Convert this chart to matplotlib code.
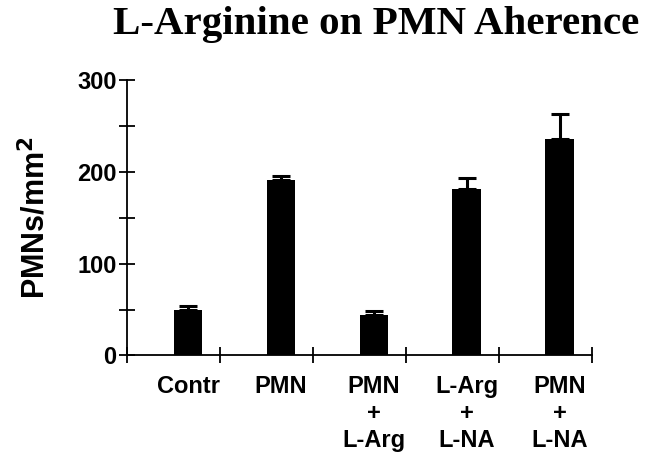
import matplotlib
matplotlib.use("Agg")
import matplotlib.pyplot as plt
import numpy as np

# values
groups = ["Contr", "PMN", "PMN\n+\nL-Arg", "L-Arg\n+\nL-NA", "PMN\n+\nL-NA"]
means = [50, 191, 44, 181, 236]
sem = [4, 4, 4, 12, 27]
yticks_major = [0, 100, 200, 300]
yticks_minor = [50, 150, 250]

fig = plt.figure(figsize=(6.65, 4.54), dpi=100)
ax = fig.add_axes([0.191, 0.217, 0.699, 0.607])

x = np.arange(len(groups))
ax.bar(x, means, width=0.31, color="black", zorder=2)
ax.errorbar(x, means, yerr=[np.zeros(len(sem)), sem], fmt="none",
            ecolor="black", elinewidth=2.2, capsize=6.5, capthick=2.2, zorder=3)

# category separators offset from the bars
offset = 0.656
ax.set_xlim(-offset, len(groups) - offset)
ax.set_xticks(np.arange(len(groups) + 1) - offset)
ax.set_xticklabels([])
ax.set_xticks(x, minor=True)
ax.set_xticklabels(groups, minor=True, fontsize=17, fontweight="bold",
                   fontfamily="Liberation Sans", linespacing=1.22)
ax.tick_params(axis="x", which="major", direction="inout", length=11, width=1.3)
ax.tick_params(axis="x", which="minor", length=0, pad=14)

ax.set_ylim(0, 300)
ax.set_yticks(yticks_major)
ax.set_yticks(yticks_minor, minor=True)
ax.set_yticklabels([str(v) for v in yticks_major], fontsize=17,
                   fontweight="bold", fontfamily="Liberation Sans")
ax.tick_params(axis="y", which="both", direction="inout", length=11, width=1.3, pad=2)

for side in ["top", "right"]:
    ax.spines[side].set_visible(False)
for side in ["left", "bottom"]:
    ax.spines[side].set_linewidth(1.3)

ax.set_ylabel("PMNs/mm$^\\mathbf{2}$", fontsize=22, fontweight="bold",
              fontfamily="Liberation Sans", labelpad=18)

fig.text(0.565, 0.925, "L-Arginine on PMN Aherence", ha="center", va="baseline",
         fontsize=29.5, fontweight="bold", fontfamily="Liberation Serif")

fig.savefig("out.png", dpi=100)
